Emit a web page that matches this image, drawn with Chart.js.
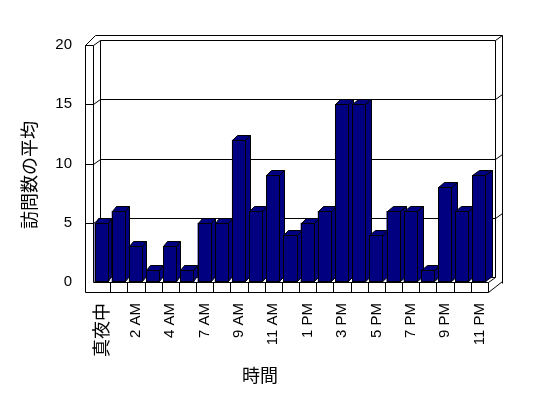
<!DOCTYPE html>
<html><head><meta charset="utf-8">
<script src="https://cdn.jsdelivr.net/npm/chart.js@4/dist/chart.umd.min.js"></script>
<style>html,body{margin:0;padding:0;background:#fff;}</style>
</head><body>
<canvas id="c" width="548" height="398"></canvas>
<script>
// ---- data ----
const categories = ['真夜中','1 AM','2 AM','3 AM','4 AM','5 AM','7 AM','8 AM','9 AM','10 AM','11 AM','正午','1 PM','2 PM','3 PM','4 PM','5 PM','6 PM','7 PM','8 PM','9 PM','10 PM','11 PM'];
const visits = [5,6,3,1,3,1,5,5,12,6,9,4,5,6,15,15,4,6,6,1,8,6,9];
const yTicks = [0,5,10,15,20];
const yTitle = '訪問数の平均';
const xTitle = '時間';

const CJK = '"Noto Sans CJK JP"';
const LAT = '"Liberation Sans", Arial';
const NAVY = '#000080';

const snap = v => Math.round(v) + 0.5;

function barGeom(bar, L, R) {
  const {x: cx, y: top, base, width} = bar.getProps(['x', 'y', 'base', 'width'], true);
  const xl = snap(cx - width / 2), xr = snap(cx + width / 2) - 1;
  const yt = snap(top), yb = snap(base) - 1;
  const dx = Math.round(3.3 + 3.4 * (cx - L) / (R - L)), dy = -5;
  return {xl, xr, yt, yb, dx, dy};
}

const threeD = {
  id: 'threeD',
  beforeDatasetsDraw(chart) {
    const {ctx, chartArea: a, scales: {x, y}} = chart;
    const L = a.left, R = a.right, B = y.getPixelForValue(0);
    const T = y.getPixelForValue(20);
    const DX = 7, DY = -5;      // wall depth
    const WT = 8;               // left wall thickness
    const FT = 10;              // floor thickness
    ctx.save();
    ctx.strokeStyle = '#000';
    ctx.lineWidth = 1;
    const line = (pts) => {
      ctx.beginPath();
      pts.forEach((p, i) => i ? ctx.lineTo(snap(p[0]), snap(p[1])) : ctx.moveTo(snap(p[0]), snap(p[1])));
      ctx.stroke();
    };
    // left wall front face + floor front face outline
    line([[L - WT, T], [L - WT, B + FT], [R, B + FT]]);
    line([[L - WT, T], [L, T], [L, B]]);
    // top edges
    line([[L - WT, T], [L - WT + 10, T + 2 * DY], [R + 2 * DX, T + 2 * DY], [R + 2 * DX, B + FT + 2 * DY + 1]]);
    line([[L, T], [L + DX, T + DY], [R + DX, T + DY], [R + 2 * DX, T + 2 * DY]]);
    line([[L + DX, T + DY], [L + DX, B + DY]]);
    line([[R + DX, T + DY], [R + DX, B + DY]]);
    // gridlines on back wall + left wall diagonals + front ticks
    yTicks.forEach(v => {
      const py = y.getPixelForValue(v);
      if (v === 0) {
        line([[L + DX, py + DY], [R + DX, py + DY]]);
        return;
      }
      if (v !== 20) {
        line([[L - WT, py], [L, py], [L + DX, py + DY], [R + DX, py + DY], [R + 2 * DX, py + 2 * DY]]);
      }
    });
    // floor
    line([[L, B], [R, B], [R, B + FT]]);
    line([[R, B], [R + DX, B + DY]]);
    line([[R, B + FT], [R + 2 * DX, B + FT + 2 * DY - 1]]);
    const half = (x.getPixelForValue(1) - x.getPixelForValue(0)) / 2;
    for (let i = 1; i < categories.length; i++) {
      const bx = x.getPixelForValue(i) - half;
      line([[bx, B], [bx, B + FT]]);
    }
    // bar top and side faces
    const meta = chart.getDatasetMeta(0);
    ctx.fillStyle = NAVY;
    const poly = (pts) => {
      ctx.beginPath();
      pts.forEach((p, i) => i ? ctx.lineTo(p[0], p[1]) : ctx.moveTo(p[0], p[1]));
      ctx.closePath();
      ctx.fill();
      ctx.stroke();
    };
    meta.data.forEach(bar => {
      const g = barGeom(bar, L, R);
      poly([[g.xr, g.yt], [g.xr + g.dx, g.yt + g.dy], [g.xr + g.dx, g.yb + g.dy], [g.xr, g.yb]]);
      poly([[g.xl, g.yt], [g.xl + g.dx, g.yt + g.dy], [g.xr + g.dx, g.yt + g.dy], [g.xr, g.yt]]);
    });
    ctx.restore();
  },
  afterDatasetsDraw(chart) {
    const {ctx, chartArea: a} = chart;
    const meta = chart.getDatasetMeta(0);
    ctx.save();
    ctx.strokeStyle = '#000';
    ctx.lineWidth = 1;
    meta.data.forEach(bar => {
      const g = barGeom(bar, a.left, a.right);
      ctx.strokeRect(g.xl, g.yt, g.xr - g.xl, g.yb - g.yt);
    });
    ctx.restore();
  },
  afterDraw(chart) {
    const {ctx} = chart;
    ctx.save();
    ctx.fillStyle = '#000';
    ctx.font = '18px ' + CJK;
    ctx.textAlign = 'center';
    ctx.textBaseline = 'middle';
    ctx.translate(29, 175);
    ctx.rotate(-Math.PI / 2);
    ctx.fillText(yTitle, 0, 0);
    ctx.restore();
    ctx.save();
    ctx.fillStyle = '#000';
    ctx.font = '18px ' + CJK;
    ctx.textAlign = 'center';
    ctx.textBaseline = 'middle';
    ctx.fillText(xTitle, 260, 375);
    ctx.restore();
  }
};

new Chart(document.getElementById('c'), {
  type: 'bar',
  data: {
    labels: categories,
    datasets: [{
      data: visits,
      backgroundColor: NAVY,
      borderWidth: 0,
      barPercentage: 0.82,
      categoryPercentage: 1.0
    }]
  },
  options: {
    responsive: false,
    animation: false,
    devicePixelRatio: 1,
    layout: {padding: {top: 45, right: 60, left: 0, bottom: 0}},
    plugins: {legend: {display: false}, tooltip: {enabled: false}},
    scales: {
      x: {
        grid: {display: false, drawTicks: false},
        border: {display: false},
        ticks: {
          autoSkip: false, minRotation: 90, maxRotation: 90, padding: 21, color: '#000',
          font: (c) => c.index === 0 ? {family: CJK, size: 18} : {family: LAT, size: 15},
          callback: (v, i) => i % 2 === 0 ? categories[i] : ''
        },
        afterFit: (s) => { s.height = 116; }
      },
      y: {
        min: 0, max: 20,
        grid: {display: false, drawTicks: false},
        border: {display: false},
        afterBuildTicks: (s) => { s.ticks = yTicks.map(v => ({value: v})); },
        ticks: {padding: 21, color: '#000', font: {family: LAT, size: 15}},
        afterFit: (s) => { s.width = 93; }
      }
    }
  },
  plugins: [threeD]
});
</script>
</body></html>
